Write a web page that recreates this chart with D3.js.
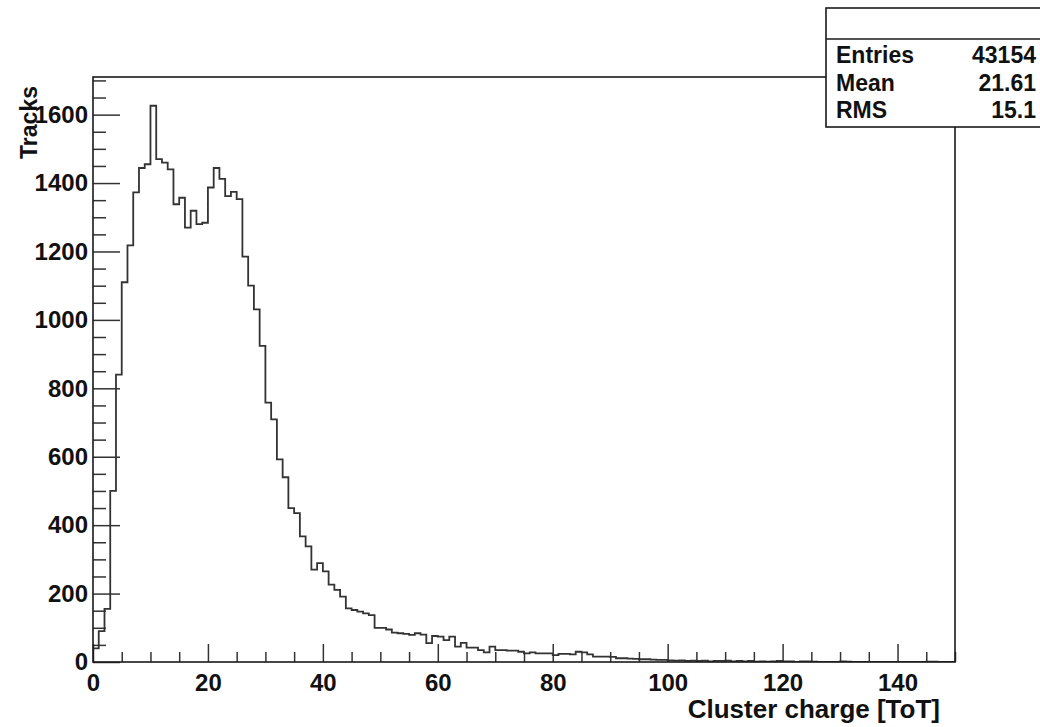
<!DOCTYPE html>
<html>
<head>
<meta charset="utf-8">
<script src="https://cdn.jsdelivr.net/npm/d3@7/dist/d3.min.js"></script>
<style>
  html, body { margin: 0; padding: 0; background: #fff; }
  svg { display: block; }
  text { font-family: "Liberation Sans", Arial, Helvetica, sans-serif; font-weight: bold; fill: #111; }
</style>
</head>
<body>
<svg id="chart" width="1040" height="727"></svg>
<script>
// ---- data (bin width 1 ToT, bins 0..149) ----
const countsLow = [40, 90, 155, 500, 840, 1110, 1218, 1373, 1444, 1455,
  1626, 1470, 1460, 1440, 1338, 1357, 1270, 1319, 1280, 1284,
  1387, 1444, 1412, 1362, 1374, 1353, 1185, 1100, 1031, 924,
  758, 709, 592, 540, 450, 435, 367, 338, 270, 289,
  265, 226, 211, 191, 157, 152, 147, 142, 137, 100];
const countsMid = [100, 95, 86, 84, 82, 79, 84, 80, 55, 76,
  74, 64, 74, 45, 56, 42, 42, 35, 28, 45,
  35, 35, 33, 33, 30, 25, 28, 25, 25, 25,
  20, 24, 24, 22, 30, 28, 22, 16, 16, 16,
  15, 11, 11, 10, 9, 8, 8, 7, 6, 6];
const countsHigh = [5, 4, 5, 3, 4, 3, 4, 2, 3, 3,
  4, 2, 3, 2, 3, 1, 2, 1, 2, 3,
  2, 2, 0, 2, 2, 1, 0, 0, 0, 0,
  2, 1, 0, 0, 0, 0, 0, 0, 0, 0,
  0, 0, 0, 0, 0, 1, 1, 0, 0, 0];
const xMajorTicks = [0, 20, 40, 60, 80, 100, 120, 140];
const yMajorTicks = [0, 200, 400, 600, 800, 1000, 1200, 1400, 1600];
const statsLabels = ["Entries", "Mean", "RMS"];
const statsValues = ["43154", "21.61", "15.1"];
const xTitle = "Cluster charge [ToT]";
const yTitle = "Tracks";

const counts = countsLow.concat(countsMid, countsHigh);

// ---- layout ----
const L = 93, R = 955, T = 77, B = 662;
const svg = d3.select("#chart");
const x = d3.scaleLinear().domain([0, 150]).range([L, R]);
const y = d3.scaleLinear().domain([0, 1710]).range([B, T]);
const ink = "#1a1a1a";
const fontFam = "'Liberation Sans', Arial, sans-serif";

// histogram
const pts = [{x: 0, y: 0}];
counts.forEach((c, i) => pts.push({x: i, y: c}));
pts.push({x: counts.length, y: counts[counts.length - 1]});
pts.push({x: counts.length, y: 0});
const line = d3.line().x(d => x(d.x)).y(d => y(d.y)).curve(d3.curveStepAfter);
svg.append("clipPath").attr("id", "clip").append("rect")
  .attr("x", L).attr("y", T).attr("width", R - L).attr("height", B - T);
svg.append("path").attr("d", line(pts)).attr("fill", "none")
  .attr("stroke", "#333").attr("stroke-width", 1.8)
  .attr("clip-path", "url(#clip)");

// minor ticks
const xMinor = d3.range(0, 151, 5).filter(v => v % 20 !== 0);
const yMinor = d3.range(0, 1711, 50).filter(v => v % 200 !== 0);

const gx = svg.append("g").attr("transform", `translate(0,${B})`);
gx.call(d3.axisBottom(x).tickValues(xMinor).tickSizeInner(-10).tickSizeOuter(0).tickFormat(""));
gx.select(".domain").remove();
const gx2 = svg.append("g").attr("transform", `translate(0,${B})`);
gx2.call(d3.axisBottom(x).tickValues(xMajorTicks).tickFormat(d3.format("d"))
  .tickSizeInner(-18).tickSizeOuter(0).tickPadding(0));
gx2.select(".domain").remove();
gx2.selectAll("text").attr("dy", null).attr("y", 29).style("font-size", "24px")
  .style("font-family", fontFam).style("font-weight", "bold").attr("fill", "#111");

const gy = svg.append("g").attr("transform", `translate(${L},0)`);
gy.call(d3.axisLeft(y).tickValues(yMinor).tickSizeInner(-13).tickSizeOuter(0).tickFormat(""));
gy.select(".domain").remove();
const gy2 = svg.append("g").attr("transform", `translate(${L},0)`);
gy2.call(d3.axisLeft(y).tickValues(yMajorTicks).tickFormat(d3.format("d"))
  .tickSizeInner(-27).tickSizeOuter(0).tickPadding(5));
gy2.select(".domain").remove();
gy2.selectAll("text").style("font-size", "24px")
  .style("font-family", fontFam).style("font-weight", "bold").attr("fill", "#111");
svg.selectAll(".tick line").attr("stroke", "#333").attr("stroke-width", 1.5);

// frame
svg.append("rect").attr("x", L).attr("y", T).attr("width", R - L).attr("height", B - T)
  .attr("fill", "none").attr("stroke", ink).attr("stroke-width", 1.6);

// axis titles
svg.append("text").attr("x", 940).attr("y", 718).attr("text-anchor", "end")
  .style("font-size", "26px").text(xTitle);
svg.append("text").attr("transform", "translate(37,86) rotate(-90)").attr("text-anchor", "end")
  .style("font-size", "23px").text(yTitle);

// stats box
const bx = 826, by = 8, bw = 240, bh = 119;
svg.append("rect").attr("x", bx).attr("y", by).attr("width", bw).attr("height", bh)
  .attr("fill", "#fff").attr("stroke", ink).attr("stroke-width", 1.6);
svg.append("line").attr("x1", bx).attr("x2", bx + bw).attr("y1", 39).attr("y2", 39)
  .attr("stroke", ink).attr("stroke-width", 1.4);
const rowY = d3.scalePoint().domain(statsLabels).range([63, 118]);
statsLabels.forEach((lab, i) => {
  svg.append("text").attr("x", 836).attr("y", rowY(lab)).style("font-size", "23px").text(lab);
  svg.append("text").attr("x", 1036).attr("y", rowY(lab)).attr("text-anchor", "end")
    .style("font-size", "23px").text(statsValues[i]);
});
</script>
</body>
</html>
